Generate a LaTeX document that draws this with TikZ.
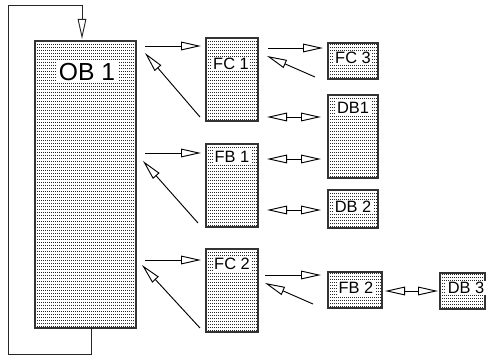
\documentclass[tikz,border=0pt]{standalone}
\usepackage{fontspec}
\setmainfont{Liberation Sans}
\usetikzlibrary{arrows.meta,calc}
\tikzset{
  patbox/.style={draw=black!80, line width=1pt, fill=white, inner sep=0pt, outer sep=0pt,
    path picture={
      \foreach \k in {0,...,100}
        \draw[black!85, line width=0.75pt, dash pattern=on 0.75pt off 0.75pt]
          ([yshift=\k*2.25pt+1pt]path picture bounding box.south west) --
          ([yshift=\k*2.25pt+1pt]path picture bounding box.south east);
    }},
  lbl/.style={fill=white, inner sep=1.2pt, font=\fontsize{12.3}{14}\selectfont},
  tipo/.tip={Triangle[open, length=15pt, width=6.5pt]},
  arr/.style={line width=0.7pt, -tipo},
  darr/.style={line width=0.7pt, tipo-tipo},
}
\begin{document}
\begin{tikzpicture}[x=0.75pt, y=-0.75pt]
\useasboundingbox (0,0) rectangle (487,356);
% boxes
\node[patbox, minimum width=75.75pt, minimum height=215.25pt] (ob1) at (85.5,184.5) {};
\node[patbox, minimum width=39pt, minimum height=62.25pt] (fc1) at (232,79.5) {};
\node[patbox, minimum width=39pt, minimum height=62.25pt] (fb1) at (232,185.5) {};
\node[patbox, minimum width=39pt, minimum height=62.25pt] (fc2) at (232,290.5) {};
\node[patbox, minimum width=37.5pt, minimum height=27pt] (fc3) at (353,61) {};
\node[patbox, minimum width=37.5pt, minimum height=62.25pt] (db1) at (353,136.5) {};
\node[patbox, minimum width=37.5pt, minimum height=28.5pt] (db2) at (353,209) {};
\node[patbox, minimum width=40.5pt, minimum height=27pt] (fb2) at (355,290) {};
\node[patbox, minimum width=33.75pt, minimum height=27pt] (db3) at (462.5,291) {};
% labels
\node[fill=white, inner sep=2pt, font=\fontsize{18.5}{20}\selectfont] (ob1t) at (87,72) {OB 1};
\node[lbl] (fc1t) at (231,64) {FC 1};
\node[lbl] (fb1t) at (232,157) {FB 1};
\node[lbl] (fc2t) at (232,264) {FC 2};
\node[lbl] (fc3t) at (353,58) {FC 3};
\node[lbl] (db1t) at (353,108) {DB1};
\node[lbl] (db2t) at (353,207) {DB 2};
\node[lbl] (fb2t) at (356,288) {FB 2};
\node[lbl] (db3t) at (466,288) {DB 3};
% connectors
\draw[arr] ($(ob1.north east)+(9,5)$) -- ($(fc1.north west)+(-5,8)$);
\draw[arr] ($(fc1.south west)+(-6,-4)$) -- ($(ob1.north east)+(9,12)$);
\draw[arr] ($(ob1.north east)+(9,112)$) -- ($(fb1.north west)+(-5,9)$);
\draw[arr] ($(fb1.south west)+(-8,-4)$) -- ($(ob1.north east)+(7,120)$);
\draw[arr] ($(ob1.north east)+(9,219)$) -- ($(fc2.north west)+(-5,11)$);
\draw[arr] ($(fc2.south west)+(-6,-4)$) -- ($(ob1.north east)+(6,224)$);
\draw[arr] ($(fc1.north east)+(10,10)$) -- ($(fc3.north west)+(-5,5)$);
\draw[arr] ($(fc3.south west)+(-13,-2)$) -- ($(fc1.north east)+(9,18)$);
\draw[darr] ($(fc1.south east)+(9,-4)$) -- ($(db1.north west)+(-7,22)$);
\draw[darr] ($(fb1.north east)+(9,15)$) -- ($(db1.north west)+(-7,64)$);
\draw[darr] ($(fb1.north east)+(9,66)$) -- ($(db2.north west)+(-7,20)$);
\draw[arr] ($(fc2.north east)+(7,26)$) -- ($(fb2.north west)+(-7,3)$);
\draw[arr] ($(fb2.south west)+(-15,-4)$) -- ($(fc2.north east)+(7,34)$);
\draw[darr] ($(fb2.north east)+(3,19)$) -- ($(db3.north west)+(-2,18)$);
\coordinate (loopc) at (8,5);
\draw[arr, draw=black!85] ($(ob1.south)+(5.5,0)$) -- ++(0,26) -| (loopc) -| ($(ob1.north)+(-3.5,-2)$);
\end{tikzpicture}
\end{document}
